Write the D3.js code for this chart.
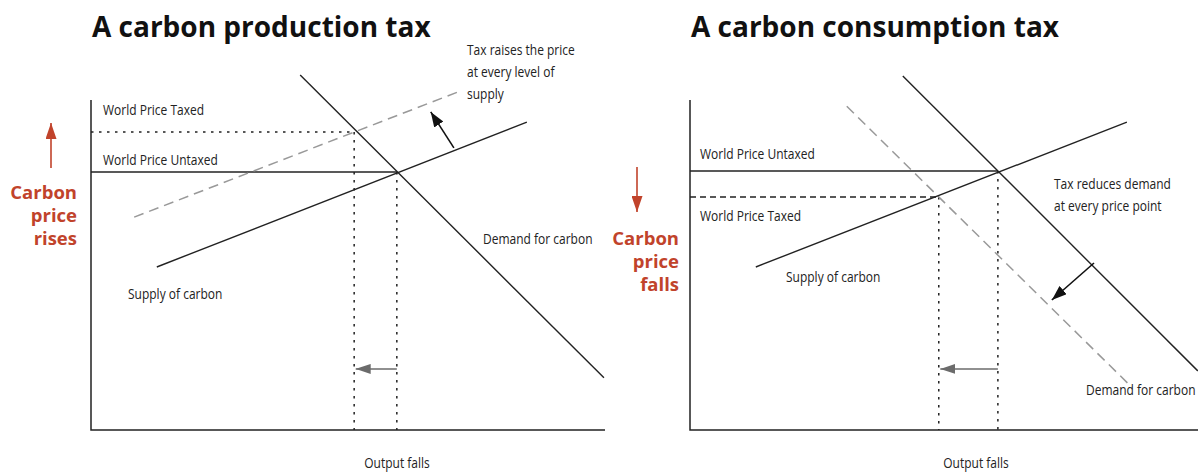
<!DOCTYPE html>
<html>
<head>
<meta charset="utf-8">
<script src="https://cdn.jsdelivr.net/npm/d3@7"></script>
<style>
  body { margin: 0; background: #fff; }
  svg { display: block; }
  .title { font-family: 'Open Sans', sans-serif; font-weight: 700; font-size: 28px; fill: #111; }
  .label { font-family: 'Open Sans', sans-serif; font-size: 15px; fill: #222; }
  .side { font-family: 'Open Sans', sans-serif; font-weight: 700; font-size: 18.5px; fill: #c1432b; text-anchor: end; }
</style>
</head>
<body>
<svg width="1198" height="472"></svg>
<script>
//  Chart values, quantity / price on a 0-100 scale
const titles = ['A carbon production tax', 'A carbon consumption tax'];

const prodDemand = [[40.7, 107.6], [99.8, 15.8]];
const prodSupply = [[12.8, 49.4], [84.8, 93.3]];
const prodSupplyTaxed = [[8.4, 64.5], [72.0, 102.8]];
const prodUntaxed = [59.5, 78.2];
const prodTaxed = [51.2, 90.3];
const prodShift = [[70.6, 85.5], [66.1, 96.4]];

const consDemand = [[41.4, 107.3], [98.8, 17.9]];
const consDemandTaxed = [[30.5, 98.1], [86.0, 12.9]];
const consSupply = [[12.8, 49.4], [85.0, 93.3]];
const consUntaxed = [59.9, 78.5];
const consTaxed = [48.4, 70.6];
const consShift = [[78.6, 50.6], [70.4, 39.4]];

const outputArrowPrice = 18.5;

const prodNote = ['Tax raises the price', 'at every level of', 'supply'];
const consNote = ['Tax reduces demand', 'at every price point'];
const prodSide = ['Carbon', 'price', 'rises'];
const consSide = ['Carbon', 'price', 'falls'];


const svg = d3.select('svg');
const inner = { width: 514, height: 330 };
const narrow = 0.8;     //  labels in the picture use a condensed face

const x = d3.scaleLinear().domain([0, 100]).range([0, inner.width]);
const y = d3.scaleLinear().domain([0, 100]).range([inner.height, 0]);
const line = d3.line().x(d => x(d[0])).y(d => y(d[1]));

//  Arrowheads
const defs = svg.append('defs');
function marker(id, color, len, wid) {
    defs.append('marker')
        .attr('id', id)
        .attr('markerUnits', 'userSpaceOnUse')
        .attr('markerWidth', len)
        .attr('markerHeight', wid)
        .attr('refX', len)
        .attr('refY', wid / 2)
        .attr('orient', 'auto')
        .append('path')
        .attr('d', `M0,0L${len},${wid / 2}L0,${wid}Z`)
        .attr('fill', color);
}
marker('head-black', '#111', 15, 11);
marker('head-gray', '#6b6b6b', 15, 10);
marker('head-red', '#c1432b', 16, 11);

function path(g, pts, stroke, width, dash, head) {
    const p = g.append('path')
        .attr('d', line(pts))
        .attr('fill', 'none')
        .attr('stroke', stroke)
        .attr('stroke-width', width);
    if (dash) p.attr('stroke-dasharray', dash);
    if (head) p.attr('marker-end', `url(#${head})`);
    return p;
}

function label(g, text, lx, ly, anchor) {
    g.append('text').attr('class', 'label')
        .attr('transform', `translate(${lx},${ly}) scale(${narrow},1)`)
        .attr('text-anchor', anchor || 'start')
        .text(text);
}

function drawPanel(cfg) {
    const g = svg.append('g').attr('transform', `translate(${cfg.left},100)`);

    g.append('text').attr('class', 'title').attr('x', 1).attr('y', -63).text(cfg.title);

    //  axes
    g.append('path')
        .attr('d', `M0,0V${inner.height}H${inner.width}`)
        .attr('fill', 'none').attr('stroke', '#222').attr('stroke-width', 1.5);

    //  price lines
    path(g, [[0, cfg.untaxed[1]], cfg.untaxed], '#222', 1.4);
    path(g, [[0, cfg.taxed[1]], cfg.taxed], '#222', 1.4, cfg.priceDash);

    //  output drop lines
    path(g, [cfg.untaxed, [cfg.untaxed[0], 0]], '#222', 1.5, '2.5,5.5');
    path(g, [cfg.taxed, [cfg.taxed[0], 0]], '#222', 1.5, '2.5,5.5');

    //  curves
    path(g, cfg.shifted, '#999', 1.5, '10,6');
    path(g, cfg.demand, '#222', 1.4);
    path(g, cfg.supply, '#222', 1.4);

    //  arrows
    path(g, cfg.shift, '#111', 1.6, null, 'head-black');
    path(g, [[cfg.untaxed[0], outputArrowPrice], [cfg.taxed[0] + 0.3, outputArrowPrice]], '#6b6b6b', 1.6, null, 'head-gray');

    g.append('path')
        .attr('d', `M${cfg.redX},${cfg.redFrom}V${cfg.redTo}`)
        .attr('stroke', '#c1432b').attr('stroke-width', 1.6)
        .attr('marker-end', 'url(#head-red)');

    g.selectAll('.side-text').data(cfg.side).enter()
        .append('text').attr('class', 'side')
        .attr('x', cfg.sideX)
        .attr('y', (d, i) => cfg.sideY + i * 23)
        .text(d => d);

    //  labels
    cfg.labels.forEach(l => label(g, l.text, l.x, l.y, l.anchor));
    cfg.note.forEach((d, i) => label(g, d, cfg.noteX, cfg.noteY + i * 22));
}

drawPanel({
    left: 91,
    title: titles[0],
    demand: prodDemand,
    supply: prodSupply,
    shifted: prodSupplyTaxed,
    untaxed: prodUntaxed,
    taxed: prodTaxed,
    shift: prodShift,
    priceDash: '2.5,5.5',
    redX: -40, redFrom: 68, redTo: 23,
    side: prodSide, sideX: -14, sideY: 99,
    note: prodNote, noteX: 376, noteY: -45,
    labels: [
        { text: 'World Price Taxed', x: 12, y: 15 },
        { text: 'World Price Untaxed', x: 12, y: 65 },
        { text: 'Supply of carbon', x: 37, y: 199 },
        { text: 'Demand for carbon', x: 392, y: 144 },
        { text: 'Output falls', x: 306, y: 368, anchor: 'middle' }
    ]
});

drawPanel({
    left: 690,
    title: titles[1],
    demand: consDemand,
    supply: consSupply,
    shifted: consDemandTaxed,
    untaxed: consUntaxed,
    taxed: consTaxed,
    shift: consShift,
    priceDash: '6,4',
    redX: -53, redFrom: 67, redTo: 112,
    side: consSide, sideX: -11, sideY: 145,
    note: consNote, noteX: 364, noteY: 89,
    labels: [
        { text: 'World Price Untaxed', x: 10, y: 59 },
        { text: 'World Price Taxed', x: 10, y: 121 },
        { text: 'Supply of carbon', x: 96, y: 182 },
        { text: 'Demand for carbon', x: 396, y: 295 },
        { text: 'Output falls', x: 286, y: 368, anchor: 'middle' }
    ]
});
</script>
</body>
</html>
